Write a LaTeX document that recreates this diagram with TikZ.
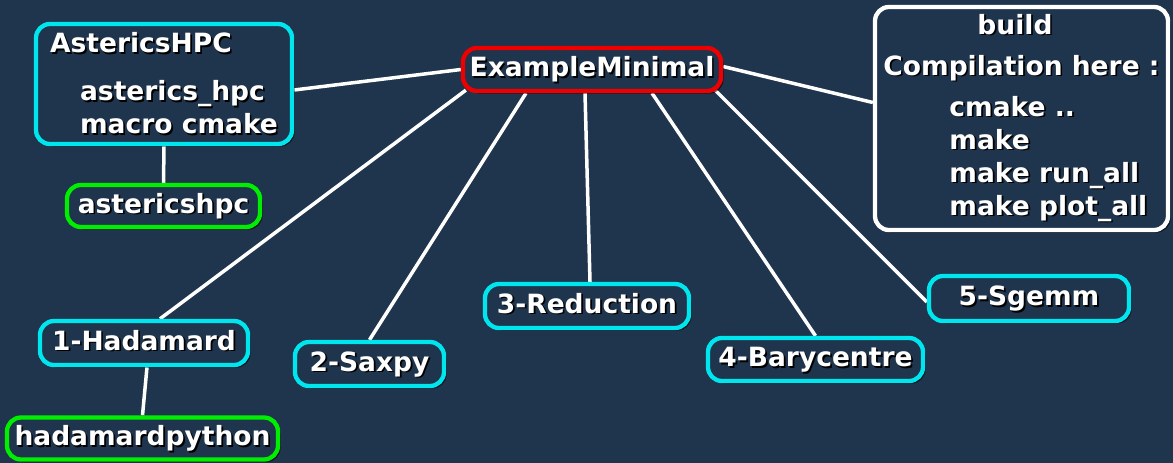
\documentclass[tikz,border=0pt]{standalone}
\usepackage{fontspec}
\setmainfont{DejaVu Sans}
\usetikzlibrary{positioning}
\usetikzlibrary{shadows}
\definecolor{mapbg}{RGB}{31,52,77}
\definecolor{mapcyan}{RGB}{0,230,238}
\definecolor{mapgreen}{RGB}{0,238,0}
\definecolor{mapred}{RGB}{238,0,0}
\newcommand{\shd}[1]{\leavevmode\rlap{\kern1.7pt\raisebox{-1.7pt}{\textcolor{black}{#1}}}#1}
\pgfdeclarelayer{bg}
\pgfdeclarelayer{edges}
\pgfsetlayers{bg,edges,main}

\begin{document}
\begin{tikzpicture}[
  x=1pt, y=-1pt,
  font=\fontsize{26.5}{33}\selectfont\bfseries,
  box/.style={draw, line width=4.3pt, rounded corners=14pt, fill=mapbg, text=white, inner sep=0pt,
    drop shadow={shadow xshift=2.5pt, shadow yshift=-2.5pt, opacity=0.6, fill=black}},
  single/.style={box, text height=20pt, text depth=6pt},
  link/.style={draw=white, line width=3.5pt}
]

% Background
\begin{pgfonlayer}{bg}
\fill[mapbg] (0,0) rectangle (1173,463);
\end{pgfonlayer}
\useasboundingbox (0,0) rectangle (1173,463);

% Root node
\node[single, draw=mapred, minimum width=258pt, minimum height=43pt] (em) at (592,69.5) {\shd{ExampleMinimal}};

% Library and its package
\node[box, draw=mapcyan, align=left, minimum width=256pt, minimum height=120pt] (ahpc) at (164,84)
  {\shd{AstericsHPC}\\[15pt]\hspace*{30pt}\shd{asterics\_hpc}\\\hspace*{30pt}\shd{macro cmake}};
\node[single, draw=mapgreen, minimum width=193pt, minimum height=42pt] (ahpcpkg) at (163.5,206) {\shd{astericshpc}};

% Build notes
\node[box, draw=white, align=left, minimum width=293pt, minimum height=223pt] (build) at (1021.5,118.5)
  {\hspace*{94pt}\shd{build}\\[8pt]\shd{Compilation here :}\\[8pt]\hspace*{66pt}\shd{cmake ..}\\
   \hspace*{66pt}\shd{make}\\\hspace*{66pt}\shd{make run\_all}\\\hspace*{66pt}\shd{make plot\_all}};

% Examples
\node[single, draw=mapcyan, minimum width=208pt, minimum height=44pt] (had) at (144,343) {\shd{1-Hadamard}};
\node[single, draw=mapgreen, minimum width=271pt, minimum height=42pt] (hadpy) at (142.5,438.5) {\shd{hadamardpython}};
\node[single, draw=mapcyan, minimum width=149pt, minimum height=44pt] (saxpy) at (369.5,364) {\shd{2-Saxpy}};
\node[single, draw=mapcyan, minimum width=204pt, minimum height=44pt] (red) at (587,306) {\shd{3-Reduction}};
\node[single, draw=mapcyan, minimum width=215pt, minimum height=43pt] (bary) at (815.5,359.5) {\shd{4-Barycentre}};
\node[single, draw=mapcyan, minimum width=200pt, minimum height=45pt] (sgemm) at (1029,298.5) {\shd{5-Sgemm}};

% Links
\begin{pgfonlayer}{edges}
\draw[link] ([yshift=-6pt]ahpc.east) -- (em.west);
\draw[link] (ahpc.south) -- (ahpcpkg.north);
\draw[link] ([xshift=5pt,yshift=3pt]em.south west) -- ([xshift=16pt]had.north);
\draw[link] ([xshift=3pt]had.south) -- (hadpy.north);
\draw[link] ([xshift=-66pt]em.south) -- (saxpy.north);
\draw[link] ([xshift=-7pt]em.south) -- ([xshift=3pt]red.north);
\draw[link] ([xshift=60pt]em.south) -- (bary.north);
\draw[link] ([xshift=-8pt,yshift=3pt]em.south east) -- ([yshift=-3.5pt]sgemm.west);
\draw[link] ([yshift=3pt]em.east) -- ([yshift=16pt]build.west);
\end{pgfonlayer}

\end{tikzpicture}
\end{document}
